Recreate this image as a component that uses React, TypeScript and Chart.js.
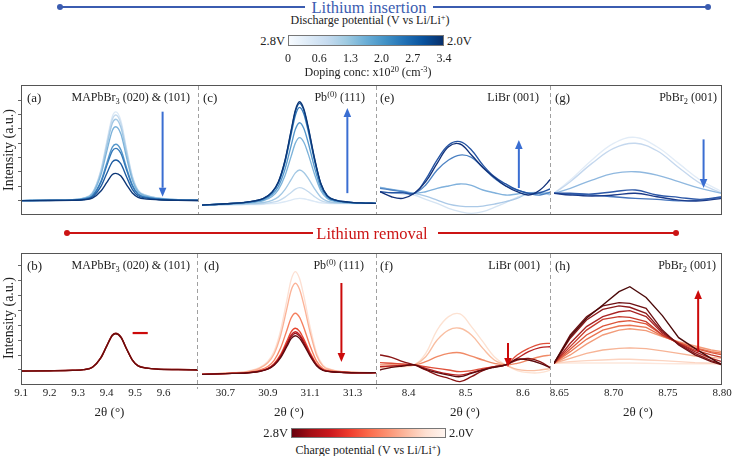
import React, { useEffect, useRef } from 'react';
import { Chart, registerables } from 'chart.js';

Chart.register(...registerables);

const SERIF = "'Liberation Serif', 'Times New Roman', 'DejaVu Serif', serif";

// ---------------- data ----------------
// MAPbBr3 (020) & (101)
const xMAPbBr3 = [9.1, 9.2, 9.28, 9.32, 9.35, 9.38, 9.4, 9.42, 9.432, 9.45, 9.47, 9.49, 9.51, 9.54, 9.58, 9.65, 9.72];
const insertionMAPbBr3 = [
  [0, 0.03, 0.07, 0.19, 0.56, 2.16, 4.07, 5.86, 6.17, 5.55, 3.58, 1.73, 0.74, 0.37, 0.19, 0.07, 0.03],
  [0, 0.03, 0.07, 0.18, 0.54, 2.09, 3.93, 5.66, 5.96, 5.36, 3.46, 1.67, 0.72, 0.36, 0.18, 0.07, 0.03],
  [0, 0.03, 0.07, 0.17, 0.51, 1.98, 3.74, 5.38, 5.66, 5.09, 3.28, 1.58, 0.68, 0.34, 0.17, 0.07, 0.03],
  [0, 0.03, 0.06, 0.15, 0.46, 1.8, 3.39, 4.88, 5.14, 4.63, 2.98, 1.44, 0.62, 0.31, 0.15, 0.06, 0.03],
  [0, 0.02, 0.05, 0.12, 0.35, 1.37, 2.59, 3.72, 3.92, 3.53, 2.27, 1.1, 0.47, 0.24, 0.12, 0.05, 0.02],
  [0, 0.02, 0.04, 0.11, 0.33, 1.27, 2.4, 3.46, 3.64, 3.28, 2.11, 1.02, 0.44, 0.22, 0.11, 0.04, 0.02],
  [0, 0.01, 0.03, 0.08, 0.25, 0.99, 1.87, 2.69, 2.83, 2.55, 1.64, 0.79, 0.34, 0.17, 0.08, 0.03, 0.01],
  [0, 0.01, 0.02, 0.06, 0.17, 0.67, 1.25, 1.81, 1.9, 1.71, 1.1, 0.53, 0.23, 0.11, 0.06, 0.02, 0.01],
];
const removalMAPbBr3 = [
  [-0.07, -0.05, -0.02, 0.02, 0.18, 0.83, 1.6, 2.33, 2.45, 2.2, 1.41, 0.67, 0.28, 0.13, 0.06, 0.03, 0.01],
  [-0.07, -0.05, -0.02, 0.03, 0.19, 0.85, 1.62, 2.35, 2.47, 2.22, 1.43, 0.68, 0.29, 0.14, 0.06, 0.03, 0.01],
  [-0.08, -0.06, -0.03, 0.02, 0.17, 0.81, 1.58, 2.31, 2.43, 2.18, 1.39, 0.66, 0.27, 0.12, 0.05, 0.02, 0],
];

// Pb(0) (111)
const xPbInsertion = [30.59, 30.7, 30.8, 30.88, 30.92, 30.95, 30.98, 31.01, 31.03, 31.05, 31.07, 31.09, 31.12, 31.15, 31.18, 31.22, 31.28, 31.34, 31.41];
const insertionPb = [
  [-0.31, -0.29, -0.27, -0.25, -0.21, -0.17, -0.08, 0.04, 0.12, 0.16, 0.13, 0.06, -0.05, -0.15, -0.19, -0.21, -0.2, -0.2, -0.19],
  [-0.31, -0.28, -0.25, -0.2, -0.12, -0.01, 0.23, 0.57, 0.8, 0.9, 0.82, 0.63, 0.28, 0.0, -0.13, -0.18, -0.19, -0.19, -0.19],
  [-0.31, -0.27, -0.22, -0.13, 0.02, 0.26, 0.75, 1.46, 1.93, 2.13, 1.96, 1.56, 0.84, 0.24, -0.03, -0.14, -0.17, -0.19, -0.19],
  [-0.31, -0.24, -0.16, 0.01, 0.29, 0.76, 1.69, 3.08, 4.0, 4.38, 4.06, 3.27, 1.85, 0.69, 0.15, -0.06, -0.14, -0.18, -0.19],
  [-0.31, -0.23, -0.14, 0.07, 0.42, 0.99, 2.13, 3.83, 4.96, 5.42, 5.02, 4.06, 2.32, 0.9, 0.23, -0.02, -0.13, -0.17, -0.19],
  [-0.31, -0.22, -0.11, 0.13, 0.55, 1.22, 2.58, 4.6, 5.94, 6.49, 6.02, 4.87, 2.8, 1.12, 0.32, 0.02, -0.11, -0.17, -0.19],
  [-0.31, -0.22, -0.1, 0.15, 0.58, 1.28, 2.69, 4.8, 6.2, 6.77, 6.28, 5.09, 2.92, 1.17, 0.34, 0.03, -0.1, -0.16, -0.19],
  [-0.31, -0.22, -0.1, 0.16, 0.59, 1.31, 2.74, 4.88, 6.3, 6.88, 6.38, 5.17, 2.97, 1.19, 0.35, 0.03, -0.1, -0.16, -0.19],
];
const xPbRemoval = [30.59, 30.7, 30.8, 30.86, 30.9, 30.93, 30.96, 30.99, 31.01, 31.03, 31.05, 31.07, 31.1, 31.13, 31.16, 31.2, 31.26, 31.33, 31.41];
const removalPb = [
  [-0.29, -0.2, -0.09, 0.16, 0.57, 1.26, 2.63, 4.68, 6.05, 6.6, 6.12, 4.96, 2.85, 1.15, 0.33, 0.03, -0.11, -0.17, -0.18],
  [-0.29, -0.21, -0.11, 0.11, 0.48, 1.09, 2.3, 4.12, 5.34, 5.82, 5.4, 4.37, 2.5, 0.99, 0.26, 0.0, -0.12, -0.17, -0.18],
  [-0.29, -0.23, -0.16, -0.01, 0.23, 0.65, 1.46, 2.67, 3.49, 3.81, 3.53, 2.84, 1.6, 0.59, 0.1, -0.07, -0.15, -0.18, -0.18],
  [-0.29, -0.24, -0.18, -0.07, 0.11, 0.43, 1.03, 1.94, 2.56, 2.8, 2.59, 2.07, 1.14, 0.39, 0.02, -0.1, -0.16, -0.18, -0.18],
  [-0.29, -0.24, -0.19, -0.08, 0.09, 0.38, 0.94, 1.78, 2.35, 2.57, 2.37, 1.9, 1.04, 0.34, 0.0, -0.11, -0.17, -0.19, -0.18],
  [-0.29, -0.24, -0.19, -0.09, 0.07, 0.35, 0.89, 1.7, 2.24, 2.46, 2.27, 1.81, 0.99, 0.32, 0.0, -0.12, -0.17, -0.19, -0.18],
  [-0.29, -0.24, -0.2, -0.1, 0.05, 0.32, 0.82, 1.58, 2.1, 2.3, 2.12, 1.69, 0.92, 0.29, -0.02, -0.12, -0.17, -0.19, -0.18],
];

// LiBr (001)
const xLiBr = [8.35, 8.37, 8.39, 8.41, 8.43, 8.45, 8.47, 8.49, 8.51, 8.53, 8.55, 8.57, 8.59, 8.61, 8.63, 8.65];
const insertionLiBr = [
  [0.62, 0.55, 0.46, 0.39, 0.09, -0.19, -0.54, -0.77, -0.89, -0.77, -0.47, -0.14, 0.23, 0.51, 0.62, 0.55],
  [0.92, 0.78, 0.62, 0.51, 0.32, 0.04, -0.24, -0.38, -0.42, -0.38, -0.24, -0.07, 0.16, 0.51, 0.55, 0.39],
  [0.92, 0.78, 0.67, 0.51, 0.62, 0.85, 1.02, 1.16, 1.06, 0.74, 0.55, 0.39, 0.46, 0.55, 0.51, 0.55],
  [0.85, 0.74, 0.62, 0.51, 1.09, 2.13, 2.83, 3.17, 3.01, 2.31, 1.55, 1.02, 0.74, 0.51, 0.39, 0.62],
  [0.62, 0.55, 0.55, 0.51, 1.48, 2.83, 3.87, 4.1, 3.52, 2.48, 1.67, 1.16, 0.74, 0.51, 0.55, 0.85],
  [0.62, 0.27, 0.16, 0.51, 1.32, 2.59, 3.75, 3.94, 3.17, 2.31, 1.62, 1.02, 0.62, 0.39, 0.74, 1.55],
];
const removalLiBr = [
  [0.11, 0.18, 0.22, 0.34, 1.12, 2.68, 3.58, 3.76, 2.91, 1.9, 0.89, 0.34, -0.04, -0.18, -0.18, 0],
  [0.22, 0.22, 0.27, 0.34, 0.89, 2.01, 2.68, 2.8, 2.35, 1.45, 0.67, 0.34, 0.04, -0.04, 0, 0.11],
  [0.34, 0.34, 0.34, 0.34, 0.56, 0.89, 1.12, 1.16, 0.93, 0.67, 0.45, 0.34, 0.45, 0.67, 0.89, 1.01],
  [0.49, 0.45, 0.4, 0.34, 0.22, 0.11, 0, -0.11, -0.04, 0.11, 0.22, 0.34, 1.01, 1.45, 1.74, 1.79],
  [0.22, 0.27, 0.31, 0.34, 0.11, -0.11, -0.27, -0.34, -0.18, 0.04, 0.22, 0.34, 0.78, 1.23, 1.5, 1.57],
  [1.01, 0.85, 0.56, 0.34, 0, -0.34, -0.56, -0.78, -0.45, -0.04, 0.22, 0.34, 0.67, 0.78, 0.56, 0.11],
  [0, 0.18, 0.27, 0.34, 0.04, -0.18, -0.34, -0.45, -0.22, 0, 0.18, 0.34, 0.72, 0.67, 0.45, 0.11],
];

// PbBr2 (001)
const xPbBr2Insertion = [8.645, 8.66, 8.68, 8.7, 8.72, 8.74, 8.76, 8.78, 8.8];
const insertionPbBr2 = [
  [0.51, 1.43, 2.83, 3.99, 4.4, 3.75, 2.59, 1.43, 0.62],
  [0.51, 1.32, 2.59, 3.64, 3.99, 3.47, 2.31, 1.2, 0.51],
  [0.51, 0.85, 1.43, 1.9, 2.01, 1.78, 1.32, 0.85, 0.51],
  [0.51, 0.46, 0.39, 0.27, 0.16, 0.09, -0.02, 0.04, 0.23],
  [0.51, 0.51, 0.46, 0.62, 0.74, 0.39, 0.23, 0.09, 0.27],
  [0.51, 0.39, 0.32, 0.39, 0.51, 0.27, 0.04, -0.02, 0.16],
];
const xPbBr2Removal = [8.645, 8.66, 8.675, 8.69, 8.705, 8.715, 8.73, 8.745, 8.76, 8.775, 8.79, 8.8];
const removalPbBr2 = [
  [0.45, 0.47, 0.47, 0.47, 0.47, 0.47, 0.45, 0.43, 0.42, 0.42, 0.42, 0.42],
  [0.45, 0.56, 0.63, 0.67, 0.72, 0.72, 0.67, 0.63, 0.56, 0.49, 0.45, 0.4],
  [0.45, 0.78, 1.12, 1.34, 1.45, 1.48, 1.43, 1.28, 1.12, 0.94, 0.85, 0.78],
  [0.45, 1.01, 1.74, 2.35, 2.68, 2.77, 2.64, 2.24, 1.9, 1.61, 1.34, 1.23],
  [0.45, 1.23, 2.06, 2.68, 2.95, 3.0, 2.86, 2.28, 1.83, 1.5, 1.23, 1.12],
  [0.45, 1.39, 2.35, 2.95, 3.24, 3.31, 3.09, 2.35, 1.83, 1.45, 1.16, 1.01],
  [0.45, 1.57, 2.68, 3.4, 3.58, 3.53, 3.24, 2.35, 1.79, 1.34, 1.01, 0.85],
  [0.45, 1.79, 2.91, 3.58, 3.91, 3.98, 3.58, 2.46, 1.79, 1.23, 0.78, 0.56],
  [0.45, 2.13, 3.36, 4.07, 4.3, 4.21, 3.8, 2.57, 1.74, 1.12, 0.63, 0.4],
  [0.45, 2.35, 3.58, 4.3, 4.52, 4.47, 4.14, 2.68, 1.68, 1.01, 0.56, 0.34],
  [0.45, 2.24, 3.47, 4.36, 5.26, 5.59, 4.87, 3.65, 2.17, 1.45, 0.78, 0.34],
];

// ticks
const ticksMAPbBr3 = [9.1, 9.2, 9.3, 9.4, 9.5, 9.6];
const ticksPb = [30.7, 30.9, 31.1, 31.3];
const ticksLiBr = [8.4, 8.5, 8.6];
const ticksPbBr2 = [8.65, 8.7, 8.75, 8.8];
const intensityTicks = [0, 1, 2, 3, 4, 5, 6, 7];
const dopingLabels = ['0', '0.6', '1.3', '2.0', '2.7', '3.4'];

// trend arrows (data units): x, from, to
const arrowInsMAPbBr3 = [9.596, 6.19, 0.27];
const arrowInsPb = [31.275, 0.52, 6.44];
const arrowInsLiBr = [8.593, 0.88, 4.22];
const arrowInsPbBr2 = [8.783, 4.26, 0.88];
const dashRemMAPbBr3 = [9.491, 9.544, 2.48];
const arrowRemPb = [31.247, 5.84, 0.54];
const arrowRemLiBr = [8.574, 1.81, 0.2];
const arrowRemPbBr2 = [8.778, 1.23, 5.37];

// ---------------- styles ----------------
const BLUES8 = ['#dce9f6', '#c4daee', '#a3c8e4', '#7db3da', '#5597cb', '#3479b9', '#1b5aa0', '#0c3676'];
const BLUES_E = ['#d5e4f3', '#abc9e7', '#80b1dc', '#4c82c3', '#2454a3', '#12327a'];
const BLUES_G = ['#e2ecf7', '#c5d8ee', '#8fb8df', '#4474bd', '#2d58a7', '#1b3b8a'];
const REDS_B = ['#b02a2a', '#8e1616', '#6e0b0b'];
const REDS_D = ['#fde0d3', '#fbb398', '#f5805f', '#e5452f', '#c42124', '#96101a', '#600a0f'];
const REDS_F = ['#fde2d2', '#f9bea1', '#f08a66', '#df4f39', '#b72121', '#891414', '#5c0b0e'];
const REDS_H = ['#fde7dc', '#fcd4c1', '#f7b496', '#f29b79', '#ea7552', '#dc563b', '#c73b2c', '#aa2424', '#8d1a1b', '#6f1013', '#4b0909'];
const ARROW_BLUE = '#3a6ed2';
const ARROW_RED = '#cc0a0a';
const HEAD_BLUE = '#3b5cb0';
const HEAD_RED = '#cc1414';

const COLS = [21, 198, 376, 550, 722];
const TOP_ROW = [85, 215];
const BOT_ROW = [253, 384];
const TOP_Y = [-1.0, 8.045];
const BOT_Y = [-0.94, 7.852];

type Spec = {
  col: number;
  row: number[];
  yr: number[];
  xMin: number;
  xMax: number;
  x: number[];
  series: number[][];
  colors: string[];
  smooth: 'mono' | 'soft' | 'none';
  xTicks?: number[];
  digits?: number;
  yTicks?: boolean;
  arrow?: number[];
  dash?: number[];
  arrowColor: string;
};

function annotationPlugin(spec: Spec) {
  return {
    id: 'trendArrow',
    afterDatasetsDraw(chart: any) {
      const { ctx, scales } = chart;
      const xs = scales.x;
      const ys = scales.y;
      ctx.save();
      ctx.strokeStyle = spec.arrowColor;
      ctx.fillStyle = spec.arrowColor;
      if (spec.arrow) {
        const [ax, a1, a2] = spec.arrow;
        const px = xs.getPixelForValue(ax);
        const p1 = ys.getPixelForValue(a1);
        const p2 = ys.getPixelForValue(a2);
        const dir = Math.sign(p2 - p1);
        const hl = 9;
        const hw = 3.8;
        ctx.lineWidth = 2;
        ctx.beginPath();
        ctx.moveTo(px, p1);
        ctx.lineTo(px, p2 - dir * hl);
        ctx.stroke();
        ctx.beginPath();
        ctx.moveTo(px, p2);
        ctx.lineTo(px - hw, p2 - dir * hl);
        ctx.lineTo(px + hw, p2 - dir * hl);
        ctx.closePath();
        ctx.fill();
      }
      if (spec.dash) {
        const [d1, d2, dy] = spec.dash;
        ctx.lineWidth = 2.2;
        ctx.beginPath();
        ctx.moveTo(xs.getPixelForValue(d1), ys.getPixelForValue(dy));
        ctx.lineTo(xs.getPixelForValue(d2), ys.getPixelForValue(dy));
        ctx.stroke();
      }
      ctx.restore();
    },
  };
}

const M = 16;
const YW = 4;

function Panel({ spec }: { spec: Spec }) {
  const ref = useRef<HTMLCanvasElement>(null);
  const left = COLS[spec.col];
  const right = COLS[spec.col + 1];
  const XH = spec.xTicks ? 36 : 0;
  const w = right - left + 2 * M;
  const h = spec.row[1] - spec.row[0] + XH;

  useEffect(() => {
    const n = spec.series.length;
    const datasets = spec.series.map((ys, i) => ({
      data: spec.x.map((xv, j) => ({ x: xv, y: ys[j] })),
      borderColor: spec.colors[i],
      borderWidth: 1.35,
      pointRadius: 0,
      fill: false,
      tension: spec.smooth === 'none' ? 0 : 0.4,
      cubicInterpolationMode: spec.smooth === 'mono' ? 'monotone' : 'default',
      order: n - 1 - i,
    }));
    const xTicks = spec.xTicks || [];
    const chart = new Chart(ref.current as HTMLCanvasElement, {
      type: 'line',
      data: { datasets } as any,
      options: {
        responsive: false,
        animation: false,
        devicePixelRatio: 1,
        events: [],
        layout: { padding: { left: spec.yTicks ? M - YW : M, right: M, top: 0, bottom: 0 } },
        plugins: { legend: { display: false }, tooltip: { enabled: false } },
        scales: {
          x: {
            type: 'linear',
            min: spec.xMin,
            max: spec.xMax,
            display: !!spec.xTicks,
            grid: { display: false, drawTicks: false },
            border: { display: false },
            afterBuildTicks: (s: any) => {
              s.ticks = xTicks.map((v) => ({ value: v }));
            },
            afterFit: (s: any) => {
              s.height = XH;
            },
            ticks: {
              autoSkip: false,
              maxRotation: 0,
              padding: 3,
              color: '#222',
              font: { family: SERIF, size: 11 },
              callback: (v: any) => Number(v).toFixed(spec.digits || 1),
            },
            title: {
              display: true,
              text: '2θ (°)',
              color: '#222',
              font: { family: SERIF, size: 13 },
              padding: { top: 0, bottom: 0 },
            },
          },
          y: {
            type: 'linear',
            min: spec.yr[0],
            max: spec.yr[1],
            display: !!spec.yTicks,
            grid: { display: true, drawOnChartArea: false, drawTicks: true, tickLength: 3, color: '#666' },
            border: { display: false },
            ticks: { display: false },
            afterBuildTicks: (s: any) => {
              s.ticks = intensityTicks.map((v) => ({ value: v }));
            },
            afterFit: (s: any) => {
              s.width = YW;
            },
          },
        },
      } as any,
      plugins: [annotationPlugin(spec)],
    });
    return () => chart.destroy();
  }, []);

  return (
    <canvas
      ref={ref}
      width={w}
      height={h}
      style={{ position: 'absolute', left: left - M, top: spec.row[0], width: w, height: h }}
    />
  );
}

function Txt({ x, y, align = 'center', size = 12, color = '#222', rotate, children }: any) {
  const tx = align === 'left' ? '0' : align === 'right' ? '-100%' : '-50%';
  return (
    <div
      style={{
        position: 'absolute',
        left: x,
        top: y,
        transform: `translate(${tx},-50%)${rotate ? ` rotate(${rotate}deg)` : ''}`,
        fontSize: size,
        color,
        whiteSpace: 'nowrap',
        lineHeight: 1,
        fontFamily: SERIF,
      }}
    >
      {children}
    </div>
  );
}

const Sub = ({ children }: any) => (
  <span style={{ fontSize: '0.7em', verticalAlign: '-0.3em', lineHeight: 0 }}>{children}</span>
);
const Sup = ({ children }: any) => (
  <span style={{ fontSize: '0.7em', verticalAlign: '0.45em', lineHeight: 0 }}>{children}</span>
);

function HLine({ x1, x2, y, color }: any) {
  return <div style={{ position: 'absolute', left: x1, top: y - 1, width: x2 - x1, height: 2, background: color }} />;
}
function Dot({ x, y, color }: any) {
  return (
    <div style={{ position: 'absolute', left: x - 3, top: y - 3, width: 6, height: 6, borderRadius: 3, background: color }} />
  );
}
function VDash({ x, y1, y2 }: any) {
  return (
    <div
      style={{
        position: 'absolute',
        left: x,
        top: y1,
        width: 1,
        height: y2 - y1,
        background: 'repeating-linear-gradient(to bottom, #a0a0a0 0 4px, transparent 4px 7px)',
      }}
    />
  );
}

export default function App() {
  const specs: Spec[] = [
    { col: 0, row: TOP_ROW, yr: TOP_Y, xMin: 9.1, xMax: 9.72, x: xMAPbBr3, series: insertionMAPbBr3, colors: BLUES8, smooth: 'mono', yTicks: true, arrow: arrowInsMAPbBr3, arrowColor: ARROW_BLUE },
    { col: 1, row: TOP_ROW, yr: TOP_Y, xMin: 30.59, xMax: 31.41, x: xPbInsertion, series: insertionPb, colors: BLUES8, smooth: 'mono', arrow: arrowInsPb, arrowColor: ARROW_BLUE },
    { col: 2, row: TOP_ROW, yr: TOP_Y, xMin: 8.35, xMax: 8.6475, x: xLiBr, series: insertionLiBr, colors: BLUES_E, smooth: 'soft', arrow: arrowInsLiBr, arrowColor: ARROW_BLUE },
    { col: 3, row: TOP_ROW, yr: TOP_Y, xMin: 8.645, xMax: 8.8, x: xPbBr2Insertion, series: insertionPbBr2, colors: BLUES_G, smooth: 'soft', arrow: arrowInsPbBr2, arrowColor: ARROW_BLUE },
    { col: 0, row: BOT_ROW, yr: BOT_Y, xMin: 9.1, xMax: 9.72, x: xMAPbBr3, series: removalMAPbBr3, colors: REDS_B, smooth: 'mono', yTicks: true, xTicks: ticksMAPbBr3, digits: 1, dash: dashRemMAPbBr3, arrowColor: ARROW_RED },
    { col: 1, row: BOT_ROW, yr: BOT_Y, xMin: 30.59, xMax: 31.41, x: xPbRemoval, series: removalPb, colors: REDS_D, smooth: 'mono', xTicks: ticksPb, digits: 1, arrow: arrowRemPb, arrowColor: ARROW_RED },
    { col: 2, row: BOT_ROW, yr: BOT_Y, xMin: 8.35, xMax: 8.6475, x: xLiBr, series: removalLiBr, colors: REDS_F, smooth: 'soft', xTicks: ticksLiBr, digits: 1, arrow: arrowRemLiBr, arrowColor: ARROW_RED },
    { col: 3, row: BOT_ROW, yr: BOT_Y, xMin: 8.645, xMax: 8.8, x: xPbBr2Removal, series: removalPbBr2, colors: REDS_H, smooth: 'none', xTicks: ticksPbBr2, digits: 2, arrow: arrowRemPbBr2, arrowColor: ARROW_RED },
  ];

  const blueGrad =
    'linear-gradient(to right, #f7fbff, #deebf7, #c6dbef, #9ecae1, #6baed6, #4292c6, #2171b5, #08519c, #08306b)';
  const redGrad =
    'linear-gradient(to right, #67000d, #a50f15, #cb181d, #ef3b2c, #fb6a4a, #fc9272, #fcbba1, #fee0d2, #fff5f0)';

  return (
    <div
      style={{
        position: 'absolute',
        left: 0,
        top: 0,
        width: 733,
        height: 456,
        overflow: 'hidden',
        background: '#fff',
        fontFamily: SERIF,
      }}
    >
      {specs.map((s, i) => (
        <Panel key={i} spec={s} />
      ))}

      {/* frames */}
      <div style={{ position: 'absolute', left: 21, top: 85, width: 701, height: 130, border: '1px solid #555', boxSizing: 'border-box' }} />
      <div style={{ position: 'absolute', left: 21, top: 253, width: 701, height: 132, border: '1px solid #555', boxSizing: 'border-box' }} />
      <VDash x={198} y1={86} y2={214} />
      <VDash x={376} y1={86} y2={214} />
      <VDash x={550} y1={86} y2={214} />
      <VDash x={197} y1={254} y2={389} />
      <VDash x={376} y1={254} y2={389} />
      <VDash x={550} y1={254} y2={389} />

      {/* header: lithium insertion */}
      <HLine x1={60} x2={305} y={7} color={HEAD_BLUE} />
      <Dot x={60} y={7} color={HEAD_BLUE} />
      <Txt x={369} y={8} size={16.5} color={HEAD_BLUE}>Lithium insertion</Txt>
      <HLine x1={433} x2={708} y={7} color={HEAD_BLUE} />
      <Dot x={708} y={7} color={HEAD_BLUE} />

      {/* discharge colorbar */}
      <Txt x={370} y={20} size={12}>
        Discharge potential (V vs Li/Li<Sup>+</Sup>)
      </Txt>
      <div style={{ position: 'absolute', left: 288, top: 35, width: 156, height: 11, background: blueGrad, border: '1px solid #777', boxSizing: 'border-box' }} />
      <Txt x={285} y={41} align="right" size={12.5}>2.8V</Txt>
      <Txt x={447} y={41} align="left" size={12.5}>2.0V</Txt>
      {dopingLabels.map((l, i) => (
        <Txt key={l} x={288 + i * 31.2} y={58} size={12}>
          {l}
        </Txt>
      ))}
      <Txt x={368} y={72} size={12}>
        Doping conc: x10<Sup>20</Sup> (cm<Sup>-3</Sup>)
      </Txt>

      {/* header: lithium removal */}
      <HLine x1={67} x2={313} y={233} color={HEAD_RED} />
      <Dot x={67} y={233} color={HEAD_RED} />
      <Txt x={372} y={234} size={16.5} color={HEAD_RED}>Lithium removal</Txt>
      <HLine x1={438} x2={676} y={233} color={HEAD_RED} />
      <Dot x={676} y={233} color={HEAD_RED} />

      {/* y titles */}
      <Txt x={9} y={150} size={14} rotate={-90}>Intensity (a.u.)</Txt>
      <Txt x={9} y={318} size={14} rotate={-90}>Intensity (a.u.)</Txt>

      {/* panel labels top row */}
      <Txt x={27} y={97} align="left" size={13}>(a)</Txt>
      <Txt x={190} y={97} align="right" size={12}>
        MAPbBr<Sub>3</Sub> (020) &amp; (101)
      </Txt>
      <Txt x={203} y={97} align="left" size={13}>(c)</Txt>
      <Txt x={365} y={97} align="right" size={12}>
        Pb<Sup>(0)</Sup> (111)
      </Txt>
      <Txt x={380} y={97} align="left" size={13}>(e)</Txt>
      <Txt x={539} y={97} align="right" size={12}>LiBr (001)</Txt>
      <Txt x={555} y={97} align="left" size={13}>(g)</Txt>
      <Txt x={717} y={97} align="right" size={12}>
        PbBr<Sub>2</Sub> (001)
      </Txt>

      {/* panel labels bottom row */}
      <Txt x={27} y={265} align="left" size={13}>(b)</Txt>
      <Txt x={190} y={265} align="right" size={12}>
        MAPbBr<Sub>3</Sub> (020) &amp; (101)
      </Txt>
      <Txt x={204} y={265} align="left" size={13}>(d)</Txt>
      <Txt x={364} y={265} align="right" size={12}>
        Pb<Sup>(0)</Sup> (111)
      </Txt>
      <Txt x={380} y={265} align="left" size={13}>(f)</Txt>
      <Txt x={540} y={265} align="right" size={12}>LiBr (001)</Txt>
      <Txt x={555} y={265} align="left" size={13}>(h)</Txt>
      <Txt x={716} y={265} align="right" size={12}>
        PbBr<Sub>2</Sub> (001)
      </Txt>

      {/* charge colorbar */}
      <div style={{ position: 'absolute', left: 291, top: 428, width: 155, height: 10, background: redGrad, border: '1px solid #777', boxSizing: 'border-box' }} />
      <Txt x={288} y={433} align="right" size={12.5}>2.8V</Txt>
      <Txt x={449} y={433} align="left" size={12.5}>2.0V</Txt>
      <Txt x={368} y={450} size={12}>
        Charge potential (V vs Li/Li<Sup>+</Sup>)
      </Txt>
    </div>
  );
}
